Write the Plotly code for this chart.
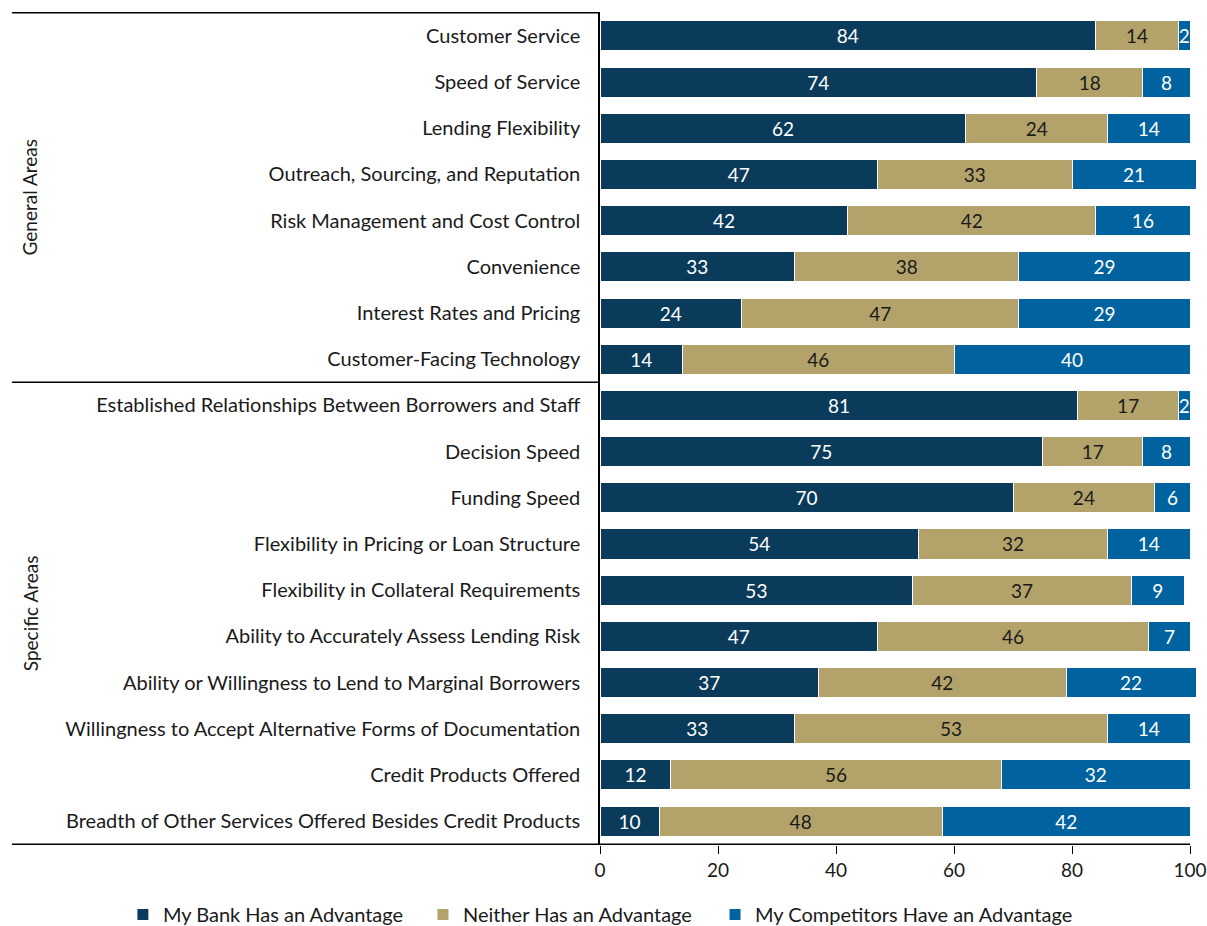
import plotly.graph_objects as go

categories = [
    "Customer Service",
    "Speed of Service",
    "Lending Flexibility",
    "Outreach, Sourcing, and Reputation",
    "Risk Management and Cost Control",
    "Convenience",
    "Interest Rates and Pricing",
    "Customer-Facing Technology",
    "Established Relationships Between Borrowers and Staff",
    "Decision Speed",
    "Funding Speed",
    "Flexibility in Pricing or Loan Structure",
    "Flexibility in Collateral Requirements",
    "Ability to Accurately Assess Lending Risk",
    "Ability or Willingness to Lend to Marginal Borrowers",
    "Willingness to Accept Alternative Forms of Documentation",
    "Credit Products Offered",
    "Breadth of Other Services Offered Besides Credit Products",
]

my_bank = [84, 74, 62, 47, 42, 33, 24, 14, 81, 75, 70, 54, 53, 47, 37, 33, 12, 10]
neither = [14, 18, 24, 33, 42, 38, 47, 46, 17, 17, 24, 32, 37, 46, 42, 53, 56, 48]
competitors = [2, 8, 14, 21, 16, 29, 29, 40, 2, 8, 6, 14, 9, 7, 22, 14, 32, 42]

groups = ["General Areas", "Specific Areas"]
group_sizes = [8, 10]

x_ticks = [0, 20, 40, 60, 80, 100]

FONT = "Lato, Roboto, sans-serif"
TEXT = "#1a1a1a"

# name, values, fill, label colour, legend id, legend left edge (px)
series = [
    ("My Bank Has an Advantage", my_bank, "#0B3B5B", "white", "legend2", 123),
    ("Neither Has an Advantage", neither, "#B3A36B", TEXT, "legend3", 423),
    ("My Competitors Have an Advantage", competitors, "#0063A0", "white", "legend4", 715),
]

# value axis: 0 sits at x=600 px and 100 at x=1190 px; a little headroom
# past 100 keeps rows whose rounded shares add up to 101 fully visible
X_MAX = 101
PX_PER_UNIT = (1190 - 600) / 100
PLOT_L = 600
PLOT_W = PX_PER_UNIT * X_MAX
PLOT_R = PLOT_L + PLOT_W


def px_to_paper(px):
    return (px - PLOT_L) / PLOT_W


fig = go.Figure()
legends = {}
for name, vals, color, tcolor, leg, leg_x in series:
    fig.add_trace(go.Bar(
        y=categories,
        x=vals,
        name=name,
        orientation="h",
        marker=dict(color=color, line=dict(color="white", width=1)),
        text=vals,
        textposition="inside",
        insidetextanchor="middle",
        textangle=0,
        textfont=dict(color=tcolor, size=19, family=FONT),
        legend=leg,
        showlegend=True,
    ))
    legends[leg] = dict(
        orientation="h",
        x=px_to_paper(leg_x), xanchor="left",
        y=-0.060, yanchor="top",
        font=dict(size=20, family=FONT, color=TEXT),
        itemwidth=30,
        bgcolor="rgba(0,0,0,0)",
    )

# frame lines: top, group separator, bottom
y_edges = [-0.5, group_sizes[0] - 0.5, sum(group_sizes) - 0.5]
shapes = []
for i, ye in enumerate(y_edges):
    shapes.append(dict(
        type="line", xref="paper", yref="y",
        x0=px_to_paper(12),
        x1=px_to_paper(1190) if i == len(y_edges) - 1 else 0.0,
        y0=ye, y1=ye, line=dict(color="black", width=1.5),
    ))

annotations = []
start = 0
for g, n in zip(groups, group_sizes):
    annotations.append(dict(
        text=g, xref="paper", yref="y",
        x=px_to_paper(30), y=start + (n - 1) / 2,
        textangle=-90, showarrow=False,
        font=dict(size=19, family=FONT, color=TEXT),
        xanchor="center", yanchor="middle",
    ))
    start += n

fig.update_layout(
    barmode="stack",
    bargap=0.35,
    width=1207,
    height=926,
    showlegend=True,
    margin=dict(l=PLOT_L, r=1207 - PLOT_R, t=12, b=81, autoexpand=False),
    plot_bgcolor="white",
    paper_bgcolor="white",
    font=dict(family=FONT, size=19, color=TEXT),
    uniformtext=dict(minsize=19, mode="show"),
    shapes=shapes,
    annotations=annotations,
    xaxis=dict(
        range=[0, X_MAX],
        tickvals=x_ticks,
        showgrid=False,
        zeroline=False,
        showline=False,
        ticks="outside",
        ticklen=8,
        tickcolor="black",
        tickfont=dict(size=19, family=FONT, color=TEXT),
        automargin=False,
    ),
    yaxis=dict(
        autorange="reversed",
        showgrid=False,
        showline=True,
        linecolor="black",
        linewidth=1.5,
        ticks="",
        ticklabelstandoff=14,
        tickfont=dict(size=20, family=FONT, color=TEXT),
        automargin=False,
    ),
    **legends,
)

fig.write_html("out.html")
